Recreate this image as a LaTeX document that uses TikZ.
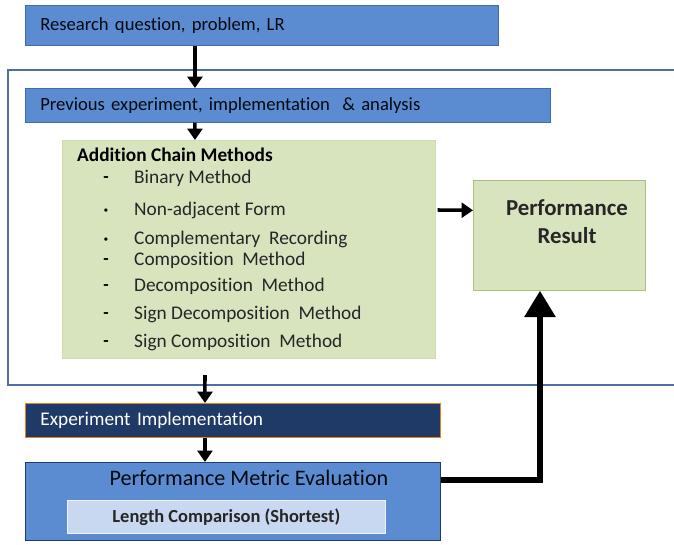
\documentclass[tikz,border=0pt]{standalone}
\usepackage{fontspec}
\setmainfont{Carlito}[Ligatures=NoCommon]
\usetikzlibrary{arrows.meta}

\definecolor{boxblue}{HTML}{5B8BD0}
\definecolor{edgeblue}{HTML}{3F6CB0}
\definecolor{navy}{HTML}{1F3A66}
\definecolor{paleblue}{HTML}{C8D8F0}
\definecolor{palegreen}{HTML}{D8E4BE}
\definecolor{edgegreen}{HTML}{A8C27E}
\definecolor{framecol}{HTML}{4C6FA6}

\tikzset{
	bluebox/.style={
		rectangle,
		anchor=north west,
		draw=edgeblue,
		fill=boxblue,
		text=black!85!navy,
		align=left,
		inner xsep=0.3cm,
		font=\fontsize{10.6}{12}\selectfont
	},
	arr/.style={
		-{Triangle[width=8.5pt,length=6.5pt]},
		line width=2pt
	},
	fatarr/.style={
		-{Triangle[width=17pt,length=15pt]},
		line width=3.6pt
	}
}

\begin{document}
\begin{tikzpicture}[x=0.02cm,y=-0.02cm]
\useasboundingbox (0,0) rectangle (674,545);

% Outer frame, open to the right
\draw[framecol,line width=1.2pt] (674,70) -- (8,70) -- (8,385) -- (674,385);

% Research question
\node[bluebox,minimum height=0.8cm,text width=8.86cm] (rq) at (25,5)
	{Research question,\ problem,\ LR};

% Previous experiment
\node[bluebox,minimum height=0.68cm,text width=9.9cm] (prev) at (25,88)
	{Previous experiment,\ implementation\ \ \& analysis};

% Addition chain methods
\node[anchor=north west,draw=palegreen!80!edgegreen,fill=palegreen,
	minimum width=7.46cm,minimum height=4.36cm] (acm) at (62,140) {};
\node[anchor=west,font=\fontsize{11}{12}\bfseries] (acmtitle) at (71,155)
	{Addition Chain Methods};
\foreach \y/\b/\t [count=\i] in {
	178/-/Binary Method,
	210/\textperiodcentered/Non-adjacent Form,
	239/\textperiodcentered/Complementary\ \ Recording,
	260/-/Composition\ \ Method,
	286/-/Decomposition\ \ Method,
	314/-/Sign Decomposition\ \ Method,
	342/-/Sign Composition\ \ Method}{
	\node[font=\bfseries] (dash\i) at (106,\y+2) {\b};
	\node[anchor=west,font=\fontsize{11}{13}\selectfont,text=black!85] (item\i) at (128,\y) {\t};
}

% Performance result
\node[anchor=north west,draw=edgegreen,fill=palegreen,
	minimum width=3.44cm,minimum height=2.2cm] (res) at (473,180) {};
\node[align=center,font=\fontsize{13}{16}\bfseries,text=black!85] (restext)
	at (567,222) {Performance\\Result};

% Experiment implementation
\node[bluebox,draw=orange!70!brown,fill=navy,text=white,
	minimum height=0.68cm,text width=7.7cm,
	font=\fontsize{11}{13}\selectfont] (impl) at (25,403)
	{Experiment Implementation};

% Performance metric evaluation
\node[anchor=north west,draw=navy,fill=boxblue,line width=0.8pt,
	minimum width=8.3cm,minimum height=1.56cm] (pme) at (25,462) {};
\node[font=\fontsize{12.6}{15}\selectfont,text=black!85!navy] (pmetext)
	at (249,478) {Performance Metric Evaluation};
\node[anchor=north west,draw=white!70!paleblue,fill=paleblue,
	minimum width=6.36cm,minimum height=0.66cm,
	font=\fontsize{10.5}{12}\bfseries,text=black!85] (len) at (67,500)
	{Length Comparison (Shortest)};

% Flow arrows
\draw[arr] ([xshift=3.4cm]rq.south west) -- ([xshift=3.4cm]prev.north west);
\draw[arr] ([xshift=3.4cm]prev.south west) -- ([xshift=2.66cm]acm.north west);
\coordinate (framebot) at (205,375);
\draw[arr] (framebot) -- ([xshift=3.6cm]impl.north west);
\draw[arr] ([xshift=3.6cm]impl.south west) -- ([xshift=3.6cm]pme.north west);
\draw[arr] ([xshift=0.04cm,yshift=-1.4cm]acm.north east) -- ([yshift=0.5cm]res.west);

% Feedback to the result
\draw[fatarr] ([yshift=-0.36cm]pme.north east) -| ([xshift=1.34cm]res.south west);

\end{tikzpicture}
\end{document}
